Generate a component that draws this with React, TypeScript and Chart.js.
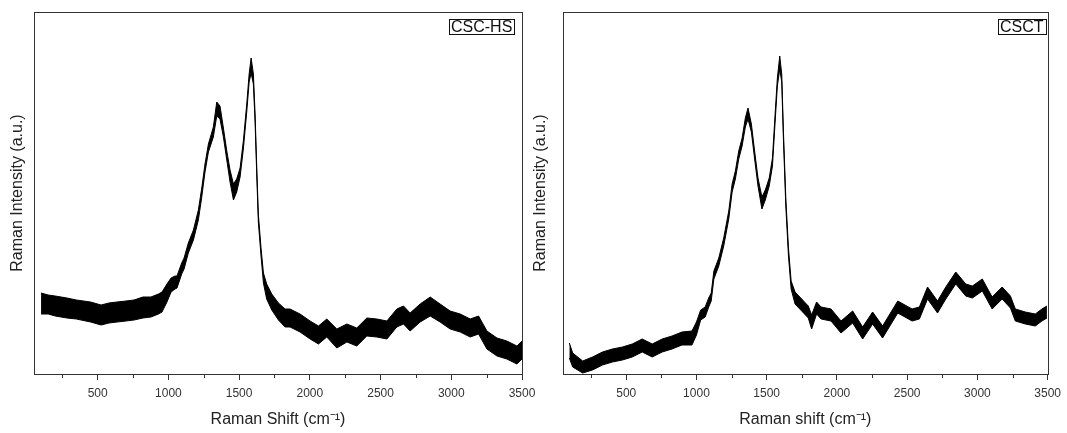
import React, { useEffect, useRef } from "react";
import { Chart, registerables } from "chart.js";

Chart.register(...registerables);

const X_MIN = 50;
const X_MAX = 3500;
const Y_MAX = 362;
const xTickValues = [500, 1000, 1500, 2000, 2500, 3000, 3500];
const xMinorTicks = [250, 750, 1250, 1750, 2250, 2750, 3250];

// CSC-HS spectrum (upper / lower edge of the noisy band)
const hsShift = [100,150,200,283,350,450,524,580,637,700,757,820,877,930,955,990,1019,1047,1061,1094,1111,1141,1177,1212,1236,1259,1283,1318,1342,1365,1389,1413,1436,1460,1483,1507,1530,1554,1571,1585,1601,1613,1624,1636,1655,1672,1695,1731,1778,1825,1860,1931,2002,2061,2120,2191,2262,2332,2403,2474,2545,2615,2662,2709,2780,2851,2921,2992,3063,3134,3193,3252,3323,3393,3464,3500];
const hsUpper = [81,79,78,76,74,72,69,71,72,73,74,77,77,80,82,90,96,98,98,111,116,131,144,164,186,210,230,247,272,268,246,223,204,190,195,206,233,270,300,316,300,260,210,160,126,101,90,80,71,65,65,60,53,48,55,45,50,46,56,55,53,65,68,61,70,77,70,63,60,55,58,43,36,33,28,33];
const hsLower = [60,60,58,56,55,52,49,51,52,53,54,56,57,60,62,72,82,85,86,100,105,121,134,154,177,202,222,237,258,255,237,214,192,174,182,197,225,262,292,301,290,252,202,152,118,91,75,64,54,47,47,42,35,30,37,26,32,28,38,37,35,47,50,43,52,58,52,45,42,37,40,25,18,15,10,15];

// CSCT spectrum
const ctShift = [95,119,190,260,331,402,473,543,614,685,756,826,897,968,1000,1030,1062,1087,1105,1124,1159,1194,1230,1254,1277,1301,1325,1348,1367,1391,1414,1438,1466,1490,1518,1541,1560,1576,1593,1607,1619,1636,1655,1674,1702,1749,1796,1820,1855,1887,1958,2029,2112,2183,2254,2325,2433,2535,2587,2645,2716,2775,2846,2917,2964,3035,3105,3176,3235,3270,3341,3412,3459,3495];
const ctUpper = [31,21,13,17,22,25,27,30,35,30,35,38,42,43,52,64,67,76,81,103,116,136,163,190,203,223,236,256,266,250,223,196,177,184,196,216,260,296,318,300,243,176,126,93,82,75,68,59,72,67,65,53,63,47,62,48,73,65,67,87,73,87,102,90,88,95,77,87,78,65,62,60,65,68];
const ctLower = [16,7,1,4,9,12,14,17,22,17,22,25,29,29,39,54,57,67,73,95,108,128,155,182,195,215,228,247,255,242,215,188,165,174,188,208,252,288,305,292,235,168,118,85,70,63,56,45,60,55,53,41,51,35,50,36,61,53,55,75,61,75,90,78,76,83,65,75,66,53,50,48,53,56];

const FONT = "'Liberation Sans', Arial, sans-serif";

type PanelOpts = {
  shift: number[];
  upper: number[];
  lower: number[];
  label: string;
  labelRightGap: number;
  xTitle: string;
  yAxisWidth: number;
  yTitlePad: number;
  padRight: number;
};

function buildChart(canvas: HTMLCanvasElement, p: PanelOpts) {
  const framePlugin = {
    id: "frame",
    afterDraw(chart: any) {
      const { ctx, chartArea } = chart;
      const { left, right, top, bottom } = chartArea;
      const xs = chart.scales.x;
      ctx.save();
      ctx.strokeStyle = "#333";
      ctx.lineWidth = 1;
      ctx.strokeRect(Math.round(left) + 0.5, Math.round(top) + 0.5, Math.round(right - left), Math.round(bottom - top));
      // minor ticks
      ctx.beginPath();
      for (const v of xMinorTicks) {
        const px = Math.round(xs.getPixelForValue(v)) + 0.5;
        ctx.moveTo(px, bottom);
        ctx.lineTo(px, bottom + 4);
      }
      ctx.stroke();
      // sample label box
      ctx.font = `16px ${FONT}`;
      const w = ctx.measureText(p.label).width;
      const bx = Math.round(right - p.labelRightGap - w - 4);
      const by = Math.round(top + 7);
      ctx.strokeStyle = "#111";
      ctx.strokeRect(bx + 0.5, by + 0.5, Math.round(w + 4), 15);
      ctx.fillStyle = "#111";
      ctx.textBaseline = "middle";
      ctx.textAlign = "left";
      ctx.fillText(p.label, bx + 2, by + 8.5);
      ctx.restore();
    },
  };

  return new Chart(canvas, {
    type: "line",
    data: {
      datasets: [
        {
          data: p.shift.map((x, i) => ({ x, y: p.upper[i] })),
          borderColor: "#000",
          borderWidth: 1,
          pointRadius: 0,
          fill: false,
          tension: 0,
        },
        {
          data: p.shift.map((x, i) => ({ x, y: p.lower[i] })),
          borderColor: "#000",
          backgroundColor: "#000",
          borderWidth: 1,
          pointRadius: 0,
          fill: "-1",
          tension: 0,
        },
      ],
    },
    options: {
      animation: false,
      responsive: false,
      events: [],
      layout: { padding: { top: 12, right: p.padRight, bottom: 0, left: 0 } },
      plugins: { legend: { display: false }, tooltip: { enabled: false } },
      scales: {
        x: {
          type: "linear",
          min: X_MIN,
          max: X_MAX,
          afterBuildTicks: (s: any) => {
            s.ticks = xTickValues.map((v) => ({ value: v }));
          },
          afterFit: (s: any) => {
            s.height = 59;
          },
          grid: {
            display: true,
            drawOnChartArea: false,
            drawTicks: true,
            tickLength: 6,
            tickColor: "#333",
            tickWidth: 1,
          },
          border: { display: false },
          ticks: {
            autoSkip: false,
            maxRotation: 0,
            padding: 6,
            color: "#333",
            font: { family: FONT, size: 12 },
            callback: (v: any) => String(v),
          },
          title: {
            display: true,
            text: p.xTitle,
            color: "#222",
            font: { family: FONT, size: 16 },
            padding: { top: 0, bottom: 4 },
          },
        },
        y: {
          type: "linear",
          min: 0,
          max: Y_MAX,
          afterFit: (s: any) => {
            s.width = p.yAxisWidth;
          },
          grid: { display: false, drawTicks: false },
          border: { display: false },
          ticks: { display: false },
          title: {
            display: true,
            text: "Raman Intensity (a.u.)",
            color: "#222",
            font: { family: FONT, size: 16 },
            padding: { top: p.yTitlePad, bottom: 0 },
          },
        },
      },
    },
    plugins: [framePlugin],
  } as any);
}

function Panel(props: { left: number; width: number; opts: PanelOpts }) {
  const ref = useRef<HTMLCanvasElement | null>(null);
  useEffect(() => {
    if (!ref.current) return;
    const chart = buildChart(ref.current, props.opts);
    return () => chart.destroy();
  }, []);
  return (
    <canvas
      ref={ref}
      width={props.width}
      height={433}
      style={{ position: "absolute", left: props.left, top: 0, width: props.width, height: 433 }}
    />
  );
}

export default function App() {
  return (
    <div style={{ position: "fixed", left: 0, top: 0, width: 1067, height: 433, background: "#fff" }}>
      <Panel
        left={0}
        width={560}
        opts={{
          shift: hsShift,
          upper: hsUpper,
          lower: hsLower,
          label: "CSC-HS",
          labelRightGap: 8,
          xTitle: "Raman Shift (cm\u207B\u00B9)",
          yAxisWidth: 34,
          yTitlePad: 8,
          padRight: 38,
        }}
      />
      <Panel
        left={525}
        width={542}
        opts={{
          shift: ctShift,
          upper: ctUpper,
          lower: ctLower,
          label: "CSCT",
          labelRightGap: 2,
          xTitle: "Raman shift (cm\u207B\u00B9)",
          yAxisWidth: 38,
          yTitlePad: 6,
          padRight: 16,
        }}
      />
    </div>
  );
}
